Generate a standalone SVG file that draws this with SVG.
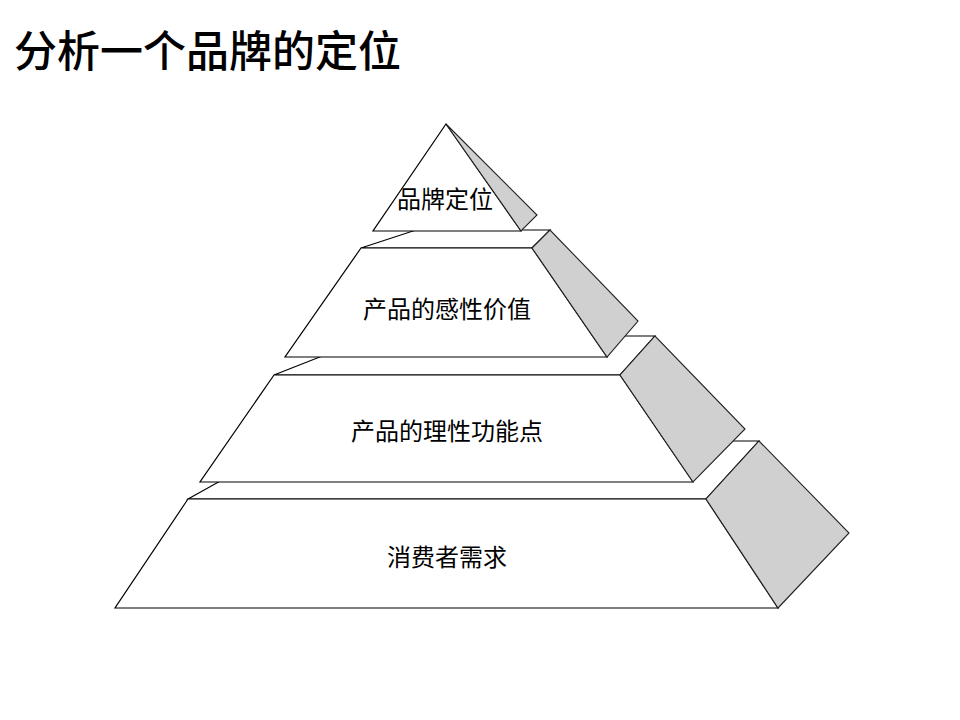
<svg xmlns="http://www.w3.org/2000/svg" width="960" height="720" viewBox="0 0 960 720">
  <style>
    .face { fill: #ffffff; stroke: #000000; stroke-width: 1.2; stroke-linejoin: miter; }
    .side { fill: #d0d0d0; stroke: #222222; stroke-width: 1.1; stroke-linejoin: miter; }
    .lbl { font-family: "Noto Sans CJK SC", "Noto Sans", sans-serif; font-size: 24px; fill: #000000; text-anchor: middle; }
    .title { font-family: "Noto Sans CJK SC", "Noto Sans", sans-serif; font-size: 43px; font-weight: 500; fill: #000000; }
  </style>
  <rect x="0" y="0" width="960" height="720" fill="#ffffff"/>
  <text class="title" x="14" y="67">分析一个品牌的定位</text>

  <g id="layer4">
    <polygon class="face" points="188,499 292,441 759,441 706,499"/>
    <polygon class="face" points="188,499 706,499 778,608 115,608"/>
    <polygon class="side" points="706,499 759,441 849,533 778,608"/>
    <text class="lbl" x="447" y="566">消费者需求</text>
  </g>

  <g id="layer3">
    <polygon class="face" points="274,375 373,336 655,336 620,375"/>
    <polygon class="face" points="274,375 620,375 693,482 200,482"/>
    <polygon class="side" points="620,375 655,336 745,429 693,482"/>
    <text class="lbl" x="447" y="440">产品的理性功能点</text>
  </g>

  <g id="layer2">
    <polygon class="face" points="361,248 416,230 550,230 532,248"/>
    <polygon class="face" points="361,248 532,248 607,357 285,357"/>
    <polygon class="side" points="532,248 550,230 638,321 607,357"/>
    <text class="lbl" x="447" y="318">产品的感性价值</text>
  </g>

  <g id="layer1">
    <polygon class="face" points="446,124 521,231 373,231"/>
    <polygon class="side" points="446,124 537,215 521,231"/>
    <text class="lbl" x="445" y="208">品牌定位</text>
  </g>

  <g id="connectors"></g>
</svg>
